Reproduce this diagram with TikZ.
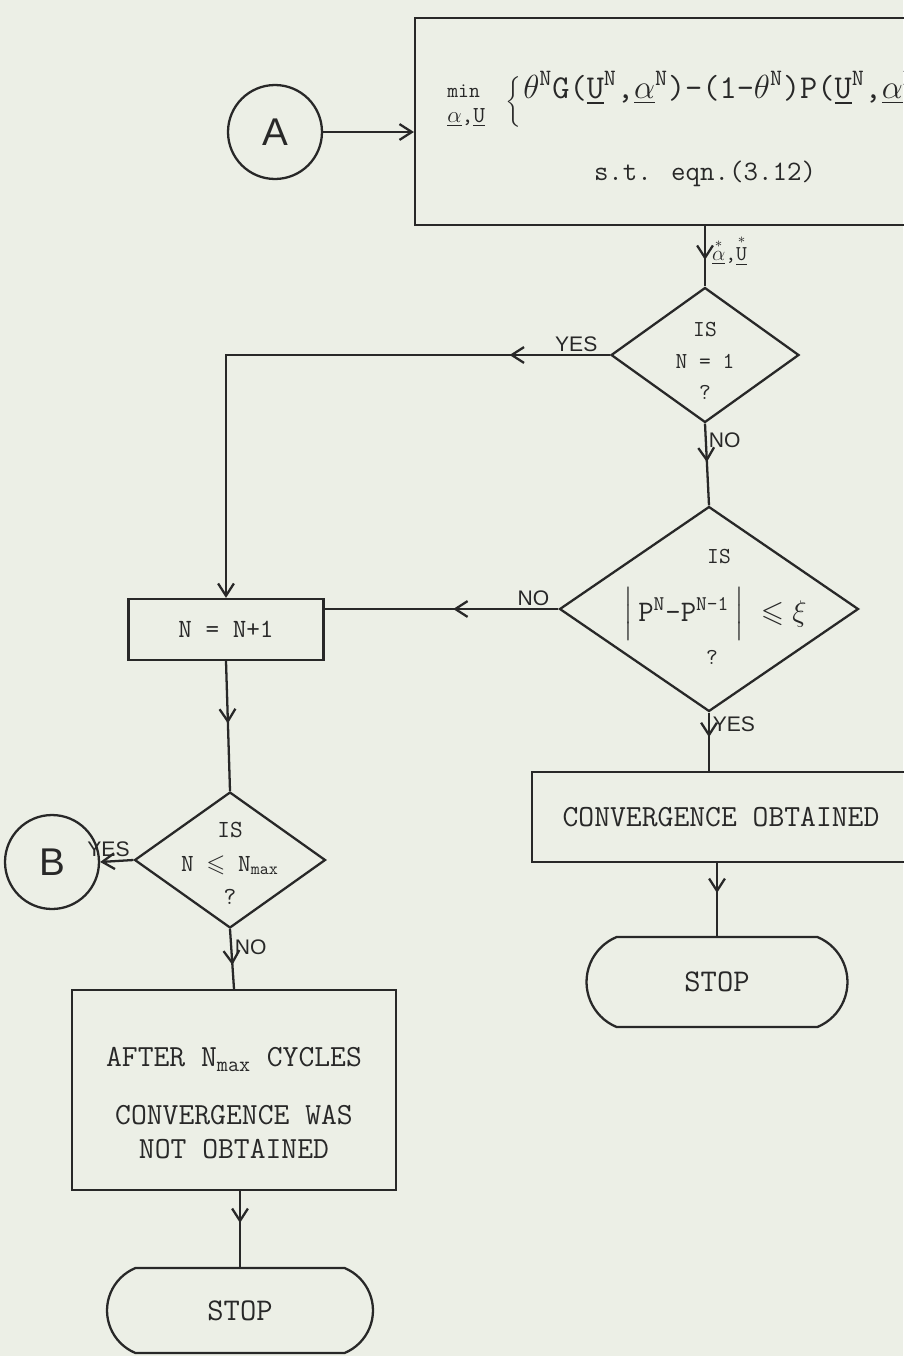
\RequirePackage{fix-cm}
\documentclass[tikz,border=0pt]{standalone}
\usepackage{amsmath,amssymb}
\usepackage{fontspec}
\newfontfamily\lettersf{Liberation Sans}
\usetikzlibrary{arrows.meta,shapes.geometric,shapes.misc,decorations.markings}
\definecolor{paper}{RGB}{236,239,230}
\definecolor{ink}{RGB}{40,40,40}
\newcommand{\optvar}[1]{$\overset{*}{\text{\underline{#1}}}$}
\tikzset{
  tip/.style={-{Straight Barb[length=7pt,width=9pt]}},
  midarr/.style={postaction={decorate},
    decoration={markings, mark=at position #1 with {\arrow{Straight Barb[length=7pt,width=9pt]}}}},
}
\begin{document}
\begin{tikzpicture}[x=0.02cm, y=-0.02cm,
  every node/.style={text=ink},
  conn/.style={draw=ink, circle, line width=1.3pt, minimum size=1.88cm, inner sep=0pt,
               font=\lettersf\fontsize{22}{22}\selectfont},
  proc/.style={draw=ink, line width=1.3pt, rectangle, align=center, inner sep=0pt,
               font=\ttfamily\fontsize{17.5}{19}\selectfont},
  term/.style={proc, rounded rectangle, rounded rectangle arc length=135},
  decide/.style={draw=ink, line width=1.3pt, diamond, inner sep=0pt},
  query/.style={align=center, inner sep=0pt, font=\ttfamily\fontsize{13}{18}\selectfont},
  lab/.style={font=\lettersf\fontsize{12}{12}\selectfont, inner sep=1.5pt},
  flow/.style={draw=ink, line width=1.3pt}
]
  \fill[paper] (0,0) rectangle (903,1356);
  \useasboundingbox (0,0) rectangle (903,1356);
  % Entry and optimisation step
  \node[conn] (A) at (275,132) {A};
  \node[proc, minimum width=11.44cm, minimum height=4.14cm] (optim) at (701,121.5) {};
  \node[anchor=base west, inner sep=0pt, font=\ttfamily\fontsize{12}{12}\selectfont] (minop) at (447,97) {min};
  \node[anchor=base west, inner sep=0pt, font=\ttfamily\fontsize{13}{13}\selectfont] (minvar) at (447,122) {\underline{$\alpha$},\underline{U}};
  \node[inner sep=0pt, font=\fontsize{12}{12}\selectfont] (brace) at (513,102) {$\bigg\{$};
  \node[anchor=base west, inner sep=0pt, font=\ttfamily\fontsize{19}{19}\selectfont] (objfn) at (523,98)
    {$\theta$\textsuperscript{N}G(\underline{U}\textsuperscript{N},\underline{$\alpha$}\textsuperscript{N})-(1-$\theta$\textsuperscript{N})P(\underline{U}\textsuperscript{N},\underline{$\alpha$}\textsuperscript{N})\}};
  \node[anchor=base, inner sep=0pt, font=\ttfamily\fontsize{16}{16}\selectfont] (constr) at (705,180) {s.t. eqn.(3.12)};
  % Tests
  \node[decide, minimum width=3.76cm, minimum height=2.7cm] (isfirst) at (705,355) {};
  \node[query, yshift=-3.5pt] (isfirstq) at (isfirst) {IS\\N = 1\\?};
  \node[decide, minimum width=5.98cm, minimum height=4.1cm] (conv) at (709,609) {};
  \node[query] (convis) at (719,557) {IS};
  \node[query, font=\ttfamily\fontsize{17}{17}\selectfont] (convtest) at (715,614)
    {$\Big|$\,P\textsuperscript{N}-P\textsuperscript{N-1}\,$\Big|$\;\;$\leqslant$\;$\xi$};
  \node[query] (convq) at (712,657) {?};
  \node[decide, minimum width=3.82cm, minimum height=2.72cm] (limit) at (230,860) {};
  \node[query, yshift=-2pt, font=\ttfamily\fontsize{14}{19}\selectfont] (limitq) at (limit) {IS\\N $\leqslant$ N\textsubscript{max}\\?};
  % Boxes and ends
  \node[proc, minimum width=3.9cm, minimum height=1.22cm, font=\ttfamily\fontsize{15}{15}\selectfont] (incr) at (226,629.5) {N = N+1};
  \node[proc, minimum width=7.56cm, minimum height=1.8cm] (done) at (721,817) {CONVERGENCE OBTAINED};
  \node[term, minimum width=5.22cm, minimum height=1.8cm, font=\ttfamily\fontsize{18}{18}\selectfont] (stopok) at (717,982) {STOP};
  \node[conn] (B) at (52,862) {B};
  \node[proc, minimum width=6.48cm, minimum height=4cm] (fail) at (234,1090)
    {\rule{0pt}{26pt}AFTER N\textsubscript{max} CYCLES\\[14pt]CONVERGENCE WAS\\NOT OBTAINED};
  \node[term, minimum width=5.32cm, minimum height=1.7cm, font=\ttfamily\fontsize{18}{18}\selectfont] (stopfail) at (240,1310.5) {STOP};
  % Flow
  \draw[flow, tip] (A) -- (A -| optim.west);
  \draw[flow, midarr=0.56] (optim.south -| isfirst.north) -- (isfirst.north)
    node[pos=0.4, right, font=\ttfamily\fontsize{12}{12}\selectfont] (optvars) {\optvar{$\alpha$},\optvar{U}};
  \draw[flow, tip, midarr=0.16] (isfirst.west) -| (incr.north)
    node[lab, pos=0, above left, xshift=-5pt] (yes1) {YES};
  \draw[flow, midarr=0.47] (isfirst.south) -- (conv.north)
    node[lab, pos=0, below right, yshift=-3pt] (no1) {NO};
  \draw[flow, midarr=0.45] (conv.west) -- (conv.west -| incr.east)
    node[lab, pos=0, above left, xshift=-3pt] (no2) {NO};
  \draw[flow, midarr=0.42] (conv.south) -- (conv.south |- done.north)
    node[lab, pos=0, below right] (yes2) {YES};
  \draw[flow, midarr=0.41] (done.south -| stopok.north) -- (stopok.north);
  \draw[flow, midarr=0.48] (incr.south) -- (limit.north);
  \draw[flow, tip] (limit.west) -- (B.east)
    node[lab, pos=0, above left] (yes3) {YES};
  \draw[flow, midarr=0.6] (limit.south) -- (fail.north)
    node[lab, pos=0.3, right] (no3) {NO};
  \draw[flow, midarr=0.42] (fail.south -| stopfail.north) -- (stopfail.north);
\end{tikzpicture}
\end{document}
